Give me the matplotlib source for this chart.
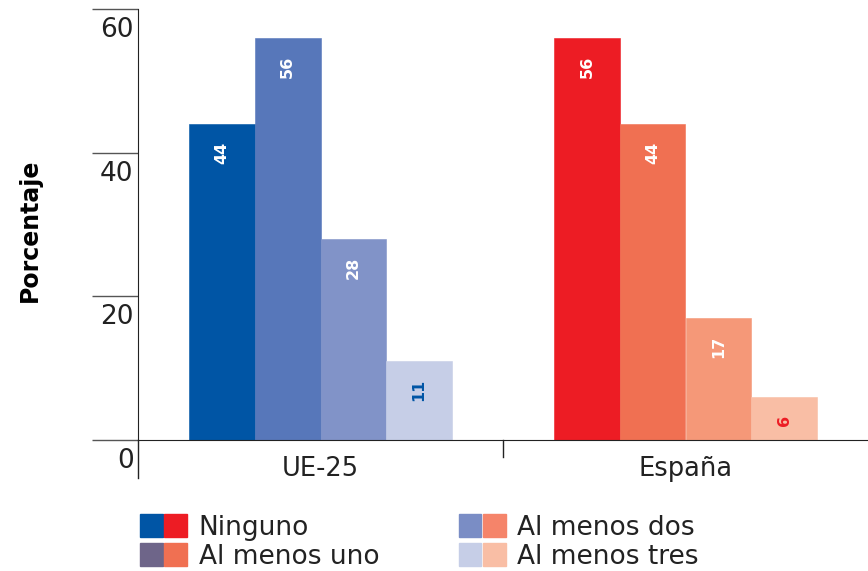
import matplotlib.pyplot as plt
from matplotlib.patches import Patch
from matplotlib.legend_handler import HandlerTuple
from matplotlib.transforms import blended_transform_factory

plt.rcParams['font.family'] = ['DejaVu Sans']

groups = ["UE-25", "España"]
series = ["Ninguno", "Al menos uno", "Al menos dos", "Al menos tres"]
ue_vals = [44, 56, 28, 11]
es_vals = [56, 44, 17, 6]
yticks = [0, 20, 40, 60]

ue_colors = ["#0055a5", "#5777ba", "#8193c8", "#c6cee7"]
es_colors = ["#ed1c24", "#f07052", "#f59878", "#f9bea5"]
ue_legend = ["#0055a5", "#6e6589", "#7a8dc5", "#c6cee7"]
es_legend = ["#ed1c24", "#f07052", "#f5846a", "#f9bea5"]
ue_txt = ["white", "white", "white", "#0055a5"]
es_txt = ["white", "white", "white", "#ed1c24"]

fig = plt.figure(figsize=(8.68, 5.71), dpi=100)
ax = fig.add_axes([138 / 868, 131 / 571, 730 / 868, 431 / 571])

w = 0.18
offs = [-1.5 * w, -0.5 * w, 0.5 * w, 1.5 * w]
for gi, (vals, cols, tcols) in enumerate([(ue_vals, ue_colors, ue_txt),
                                          (es_vals, es_colors, es_txt)]):
    for i in range(4):
        x = gi + offs[i]
        ax.bar(x, vals[i], width=w, color=cols[i], edgecolor=cols[i], linewidth=0.4)
        ax.annotate(str(vals[i]), (x, vals[i]), xytext=(0, -13),
                    textcoords="offset points", rotation=90,
                    ha="center", va="top", color=tcols[i],
                    fontsize=11.5, fontweight="bold")

ax.set_xlim(-0.5, 1.5)
ax.set_ylim(0, 60)
for s in ["top", "right"]:
    ax.spines[s].set_visible(False)
ax.spines["left"].set_color("#222222")
ax.spines["bottom"].set_color("#222222")

ax.set_yticks(yticks)
ax.set_yticklabels([])
ax.tick_params(axis="y", length=33, width=1, color="#555555")
ax.set_xticks([])
trans = blended_transform_factory(ax.transAxes, ax.transData)
for t in yticks:
    ax.text(-0.006, t - 1.1, str(t), transform=trans, ha="right", va="top",
            fontsize=19, color="#222222")
# left axis extends below zero, separator between groups
ax.plot([0, 0], [0, -5.3], transform=trans, color="#222222", lw=1, clip_on=False)
ax.plot([0.5, 0.5], [0, -2.4], color="#222222", lw=1, clip_on=False)
for gi, g in enumerate(groups):
    ax.text(gi, -2.2, g, ha="center", va="top", fontsize=18.5, color="#222222")

fig.text(30 / 868, 1 - 230 / 571, "Porcentaje", rotation=90, ha="center",
         va="center", fontsize=17, fontweight="bold")

handles = [(Patch(color=ue_legend[i]), Patch(color=es_legend[i])) for i in range(4)]
leg = fig.legend(handles, series, handler_map={tuple: HandlerTuple(ndivide=None, pad=0.05)},
                 ncol=2, loc="upper left", bbox_to_anchor=(132 / 868, 1 - 506 / 571),
                 frameon=False, fontsize=19, handlelength=1.78, handleheight=0.97,
                 handletextpad=0.45, labelspacing=0.1, columnspacing=3.0,
                 borderaxespad=0, borderpad=0.3)
for t in leg.get_texts():
    t.set_color("#222222")

fig.savefig("out.png", dpi=100)
